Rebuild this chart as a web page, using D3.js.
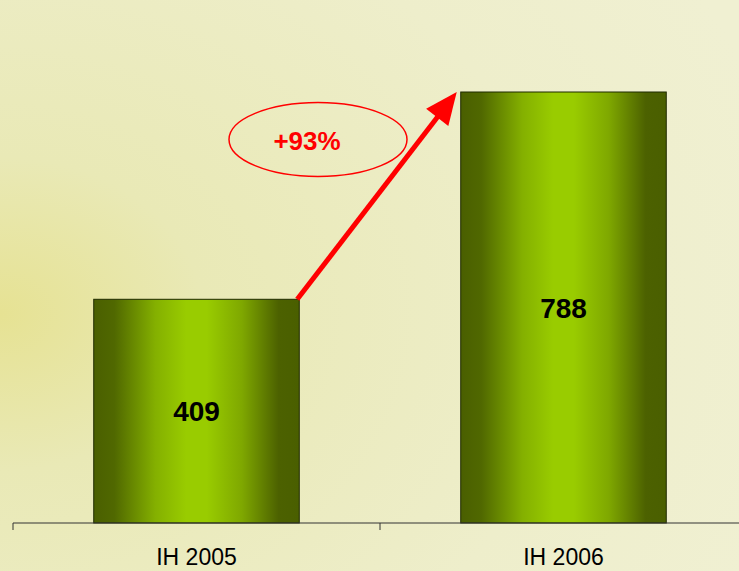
<!DOCTYPE html>
<html>
<head>
<meta charset="utf-8">
<script src="https://d3js.org/d3.v7.min.js"></script>
<style>
  body { margin: 0; padding: 0; overflow: hidden; }
  svg { display: block; font-family: "Liberation Sans", Arial, sans-serif; }
</style>
</head>
<body>
<script>
// datos
var periodos = ["IH 2005", "IH 2006"];
var valores = [409, 788];
var crecimiento = "+93%";

var width = 739, height = 571;
var margin = { top: 92, bottom: 48, left: 13, right: -8 };

var svg = d3.select("body").append("svg")
  .attr("width", width)
  .attr("height", height);

var defs = svg.append("defs");

// fondo amarillo claro
var fondo = defs.append("radialGradient")
  .attr("id", "fondo")
  .attr("cx", "0%").attr("cy", "55%").attr("r", "110%");
fondo.append("stop").attr("offset", "0%").attr("stop-color", "#e6e293");
fondo.append("stop").attr("offset", "25%").attr("stop-color", "#e9e9b6");
fondo.append("stop").attr("offset", "70%").attr("stop-color", "#eeeecb");
fondo.append("stop").attr("offset", "100%").attr("stop-color", "#f0f0d2");

svg.append("rect")
  .attr("width", width).attr("height", height)
  .attr("fill", "url(#fondo)");

// degradado de las barras
var barraGrad = defs.append("linearGradient")
  .attr("id", "barra")
  .attr("x1", "0%").attr("x2", "100%").attr("y1", "0%").attr("y2", "0%");
[[0, "#4a5f00"], [0.1, "#506800"], [0.3, "#84b000"], [0.45, "#99cc00"],
 [0.55, "#99cc00"], [0.72, "#7fa800"], [0.9, "#4c6100"], [1, "#4a5f00"]]
  .forEach(function (s) {
    barraGrad.append("stop").attr("offset", s[0]).attr("stop-color", s[1]);
  });

// escalas
var escalaX = d3.scaleBand()
  .domain(periodos)
  .range([margin.left, width - margin.right])
  .paddingInner(0.44)
  .paddingOuter(0.22);

var escalaY = d3.scaleLinear()
  .domain([0, 788])
  .range([height - margin.bottom, margin.top]);

// barras
svg.selectAll("rect.bar")
  .data(valores)
  .join("rect")
  .attr("class", "bar")
  .attr("x", function (d, i) { return escalaX(periodos[i]); })
  .attr("y", function (d) { return escalaY(d); })
  .attr("width", escalaX.bandwidth())
  .attr("height", function (d) { return escalaY(0) - escalaY(d); })
  .attr("fill", "url(#barra)")
  .attr("stroke", "#1f2a00")
  .attr("stroke-width", 1);

// etiquetas de valor
svg.selectAll("text.valor")
  .data(valores)
  .join("text")
  .attr("class", "valor")
  .attr("x", function (d, i) { return escalaX(periodos[i]) + escalaX.bandwidth() / 2; })
  .attr("y", function (d) { return (escalaY(d) + escalaY(0)) / 2; })
  .attr("dy", "0.36em")
  .attr("text-anchor", "middle")
  .style("font-size", "28px")
  .style("font-weight", "bold")
  .attr("fill", "#000")
  .text(function (d) { return d; });

// eje X
var ejeX = d3.axisBottom(escalaX)
  .tickSize(0)
  .tickPadding(26);

var gEje = svg.append("g")
  .attr("transform", "translate(0," + escalaY(0) + ")")
  .call(ejeX);
gEje.select(".domain").attr("stroke", "#333").attr("d", "M" + margin.left + ",0H" + width);
gEje.selectAll("text")
  .style("font-size", "23px")
  .style("font-family", "Liberation Sans, Arial, sans-serif")
  .attr("fill", "#000");

// marcas de separacion
var step = escalaX.step();
var separadores = [margin.left, margin.left + step];
gEje.selectAll("line.sep")
  .data(separadores)
  .join("line")
  .attr("class", "sep")
  .attr("x1", function (d) { return d; })
  .attr("x2", function (d) { return d; })
  .attr("y1", 0).attr("y2", 7)
  .attr("stroke", "#333");

// flecha de crecimiento
var x0 = escalaX(periodos[0]) + escalaX.bandwidth() - 2;
var y0 = escalaY(valores[0]);
var x1 = escalaX(periodos[1]) - 4;
var y1 = escalaY(valores[1]);
var ang = Math.atan2(y1 - y0, x1 - x0);
var largo = 32, ancho = 14;
var bx = x1 - largo * Math.cos(ang), by = y1 - largo * Math.sin(ang);

svg.append("line")
  .attr("x1", x0).attr("y1", y0)
  .attr("x2", bx + 3 * Math.cos(ang)).attr("y2", by + 3 * Math.sin(ang))
  .attr("stroke", "#ff0000")
  .attr("stroke-width", 5);

svg.append("path")
  .attr("d", "M" + x1 + "," + y1 +
    "L" + (bx + ancho * Math.sin(ang)) + "," + (by - ancho * Math.cos(ang)) +
    "L" + (bx - ancho * Math.sin(ang)) + "," + (by + ancho * Math.cos(ang)) + "Z")
  .attr("fill", "#ff0000");

// elipse con el porcentaje
svg.append("ellipse")
  .attr("cx", 318).attr("cy", 139.5)
  .attr("rx", 89).attr("ry", 37)
  .attr("fill", "none")
  .attr("stroke", "#ff0000")
  .attr("stroke-width", 1.5);

svg.append("text")
  .attr("x", 307).attr("y", 141)
  .attr("dy", "0.36em")
  .attr("text-anchor", "middle")
  .style("font-size", "26px")
  .style("font-weight", "bold")
  .attr("fill", "#ff0000")
  .text(crecimiento);
</script>
</body>
</html>
